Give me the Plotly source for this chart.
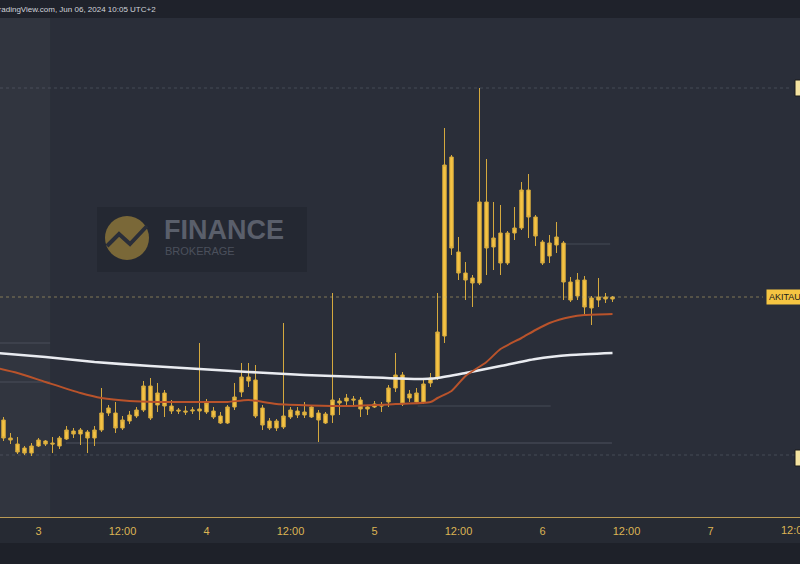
import plotly.graph_objects as go
import pandas as pd

# ---------------- data (hourly candles, price in chart units) ----------------
start_time = "2024-06-02 18:00"
n_candles = 89
times = pd.date_range(start_time, periods=n_candles, freq="h")

opens = [205, 180, 162, 156, 152, 147, 154, 159, 157, 154, 161, 169, 166, 168, 162,
         170, 187, 187, 172, 179, 184, 190, 214, 195, 207, 194, 190, 189, 189, 189,
         188, 189, 184, 177, 193, 208, 223, 220, 192, 179, 172, 173, 183, 189, 185,
         183, 187, 177, 185, 199, 199, 201, 200, 191, 193, 195, 198, 212, 225, 202,
         198, 198, 217, 223, 264, 443, 348, 327, 322, 317, 398, 353, 367, 337, 367,
         372, 410, 383, 358, 344, 355, 357, 318, 304, 320, 292, 300, 303, 301]
highs = [210, 183, 167, 163, 154, 157, 162, 160, 163, 164, 174, 172, 172, 170, 174,
         212, 195, 198, 184, 189, 193, 219, 222, 217, 210, 200, 192, 194, 193, 257,
         201, 193, 188, 195, 217, 237, 237, 235, 195, 182, 181, 277, 193, 193, 198,
         195, 190, 188, 307, 202, 206, 204, 203, 195, 199, 198, 215, 247, 228, 210,
         212, 220, 227, 307, 472, 445, 363, 338, 325, 512, 441, 398, 395, 369, 393,
         418, 426, 385, 360, 365, 378, 359, 323, 327, 324, 304, 322, 307, 304]
lows = [175, 159, 156, 146, 145, 144, 153, 154, 147, 151, 160, 162, 155, 147, 154,
        168, 184, 167, 170, 176, 182, 188, 180, 188, 183, 186, 186, 185, 186, 180,
        186, 181, 176, 176, 190, 203, 213, 182, 170, 170, 169, 171, 181, 182, 182,
        182, 158, 176, 177, 185, 195, 193, 183, 185, 192, 188, 193, 208, 194, 198,
        196, 196, 213, 220, 257, 345, 320, 300, 293, 315, 325, 330, 325, 335, 360,
        370, 362, 354, 335, 337, 347, 300, 298, 300, 284, 275, 293, 297, 298]
closes = [180, 162, 160, 148, 147, 154, 160, 156, 156, 162, 170, 166, 170, 162, 170,
          187, 192, 172, 180, 185, 190, 214, 182, 207, 194, 189, 189, 188, 190, 191,
          197, 183, 177, 193, 203, 223, 219, 184, 175, 172, 179, 184, 190, 185, 188,
          193, 180, 186, 200, 197, 202, 200, 191, 193, 196, 194, 212, 225, 196, 206,
          207, 216, 222, 268, 435, 352, 327, 320, 317, 398, 352, 362, 337, 367, 372,
          410, 383, 364, 337, 357, 363, 318, 300, 320, 293, 302, 303, 301, 303]

# moving averages (candle index -> value)
ma_slow_idx = [0, 7, 14, 22, 29, 36, 44, 52, 60, 63, 67, 72, 77, 82, 88]
ma_slow_val = [247, 243, 238, 234, 231, 228, 225, 223, 221, 222, 227, 234, 241, 245, 247]
ma_fast_idx = [0, 3, 7, 12, 15, 19, 23, 29, 33, 36, 40, 50, 57, 62, 63, 65, 67, 70,
               72, 75, 77, 79, 82, 84, 88]
ma_fast_val = [232, 227, 218, 207, 202, 199, 198, 198, 198, 200, 196, 194, 196, 198,
               202, 209, 224, 238, 251, 262, 270, 277, 283, 285, 286]

tick_times = ["2024-06-03 00:00", "2024-06-03 12:00", "2024-06-04 00:00", "2024-06-04 12:00",
              "2024-06-05 00:00", "2024-06-05 12:00", "2024-06-06 00:00", "2024-06-06 12:00",
              "2024-06-07 00:00"]
tick_labels = ["3", "12:00", "4", "12:00", "5", "12:00", "6", "12:00", "7"]
edge_tick_time = "2024-06-07 12:00"
edge_tick_label = "12:00"

last_price = 303
level_high = 512
level_low = 145
symbol_tag = "AKITAUSDT"
header_text = "TradingView.com, Jun 06, 2024 10:05 UTC+2"

# ---------------- layout helpers ----------------
W, H = 800, 564
PT, PB = 18, 517          # plot top / bottom in px
x_range = ["2024-06-02 18:30", "2024-06-07 12:47"]
y_range = [83, 582]


def px(xp):
    return xp / W


def py(yp):
    return (PB - yp) / (PB - PT)


BG = "#2a2e39"
CANDLE = "#f6c343"
WICK = "#d4a93e"
TICKFONT = dict(family="Liberation Sans, Arial, sans-serif", size=11, color="#dcb453")

fig = go.Figure()

fig.add_trace(go.Candlestick(
    x=times, open=opens, high=highs, low=lows, close=closes,
    increasing=dict(line=dict(color=WICK, width=1), fillcolor=CANDLE),
    decreasing=dict(line=dict(color=WICK, width=1), fillcolor=CANDLE),
    whiskerwidth=0, showlegend=False, hoverinfo="skip",
))

fig.add_trace(go.Scatter(
    x=[times[i] for i in ma_slow_idx], y=ma_slow_val, mode="lines",
    line=dict(color="#e9ebf0", width=2.6, shape="spline", smoothing=0.6),
    showlegend=False, hoverinfo="skip",
))
fig.add_trace(go.Scatter(
    x=[times[i] for i in ma_fast_idx], y=ma_fast_val, mode="lines",
    line=dict(color="#b9532b", width=2, shape="spline", smoothing=0.6),
    showlegend=False, hoverinfo="skip",
))

shapes = []
# left shaded zone
shapes.append(dict(type="rect", xref="x", yref="paper", x0=x_range[0], x1="2024-06-03 01:40",
                   y0=0, y1=1, fillcolor="#31353f", line=dict(width=0), layer="below"))
# faint levels
faint = "rgba(120,125,140,0.35)"
shapes.append(dict(type="line", xref="x", yref="y", x0=x_range[0], x1="2024-06-07 11:30",
                   y0=level_high, y1=level_high, line=dict(color=faint, width=1, dash="dot"), layer="below"))
shapes.append(dict(type="line", xref="x", yref="y", x0=x_range[0], x1="2024-06-07 12:47",
                   y0=level_low, y1=level_low, line=dict(color=faint, width=1, dash="dot"), layer="below"))
shapes.append(dict(type="line", xref="x", yref="y", x0="2024-06-03 03:55", x1="2024-06-06 09:55",
                   y0=157, y1=157, line=dict(color="rgba(120,125,140,0.45)", width=1), layer="below"))
shapes.append(dict(type="line", xref="x", yref="y", x0="2024-06-05 06:10", x1="2024-06-06 01:10",
                   y0=194, y1=194, line=dict(color="rgba(120,125,140,0.35)", width=1), layer="below"))
shapes.append(dict(type="line", xref="x", yref="y", x0="2024-06-06 03:10", x1="2024-06-06 09:40",
                   y0=356, y1=356, line=dict(color="rgba(120,125,140,0.35)", width=1), layer="below"))
for lv in (257, 218):
    shapes.append(dict(type="line", xref="x", yref="y", x0=x_range[0], x1="2024-06-03 01:40",
                       y0=lv, y1=lv, line=dict(color="rgba(120,125,140,0.35)", width=1), layer="below"))
# last price line
shapes.append(dict(type="line", xref="x", yref="y", x0=x_range[0], x1="2024-06-07 07:30",
                   y0=last_price, y1=last_price, line=dict(color="rgba(200,180,110,0.55)", width=1, dash="dot")))

# header bar and bottom strip
shapes.append(dict(type="rect", xref="paper", yref="paper", x0=0, x1=1, y0=1, y1=py(0),
                   fillcolor="#1f222b", line=dict(width=0)))
shapes.append(dict(type="rect", xref="paper", yref="paper", x0=0, x1=1, y0=py(543), y1=py(564),
                   fillcolor="#1e2129", line=dict(width=0)))

# watermark
shapes.append(dict(type="rect", xref="paper", yref="paper", x0=px(97), x1=px(307), y0=py(272), y1=py(207),
                   fillcolor="rgba(36,40,50,0.9)", line=dict(width=0), layer="below"))
shapes.append(dict(type="circle", xref="paper", yref="paper", x0=px(105), x1=px(149), y0=py(260), y1=py(216),
                   fillcolor="#7a6838", line=dict(width=0), layer="below"))
shapes.append(dict(type="path", xref="paper", yref="paper", layer="below",
                   path=f"M {px(107)} {py(246)} L {px(119)} {py(234)} L {px(130)} {py(244)} L {px(147)} {py(226)}",
                   line=dict(color="#2a2e39", width=4)))

# price tags on right edge
shapes.append(dict(type="rect", xref="paper", yref="paper", x0=px(795), x1=px(801), y0=py(96), y1=py(80),
                   fillcolor="#f4e3a1", line=dict(color="#1a1a1a", width=1)))
shapes.append(dict(type="rect", xref="paper", yref="paper", x0=px(795), x1=px(801), y0=py(466), y1=py(450),
                   fillcolor="#f4e3a1", line=dict(color="#1a1a1a", width=1)))

annotations = [
    dict(xref="paper", yref="paper", x=px(-8), y=py(9), xanchor="left", yanchor="middle",
         text=header_text, showarrow=False,
         font=dict(family="Liberation Sans, Arial, sans-serif", size=8, color="#d0d3da")),
    dict(xref="paper", yref="paper", x=px(162), y=py(230), xanchor="left", yanchor="middle",
         text="<b>FINANCE</b>", showarrow=False,
         font=dict(family="Liberation Sans, Arial, sans-serif", size=27, color="#5a5f6b")),
    dict(xref="paper", yref="paper", x=px(163), y=py(251), xanchor="left", yanchor="middle",
         text="BROKERAGE", showarrow=False,
         font=dict(family="Liberation Sans, Arial, sans-serif", size=11, color="#4b505c")),
    dict(xref="paper", yref="y", x=px(766), y=last_price, xanchor="left", yanchor="middle",
         text=symbol_tag, showarrow=False, bgcolor="#f5c542", borderpad=2,
         font=dict(family="Liberation Sans, Arial, sans-serif", size=9, color="#1a1a1a")),
    dict(xref="x", yref="paper", x=edge_tick_time, y=py(530), xanchor="center", yanchor="middle",
         text=edge_tick_label, showarrow=False, font=TICKFONT),
]

fig.update_layout(
    width=W, height=H,
    margin=dict(l=0, r=0, t=PT, b=H - PB, pad=0),
    paper_bgcolor="#262a33",
    plot_bgcolor=BG,
    shapes=shapes,
    annotations=annotations,
    showlegend=False,
    xaxis=dict(type="date", range=x_range, tickvals=tick_times, ticktext=tick_labels,
               showgrid=False, zeroline=False, showline=True, linecolor="#b99a55", linewidth=1,
               ticks="", ticklabelstandoff=4, tickfont=TICKFONT,
               rangeslider=dict(visible=False), fixedrange=True),
    yaxis=dict(range=y_range, showticklabels=False, showgrid=False, zeroline=False, fixedrange=True),
)

fig.write_html("out.html", config={"displayModeBar": False},
               post_script="document.body.style.margin='0';document.body.style.overflow='hidden';")
